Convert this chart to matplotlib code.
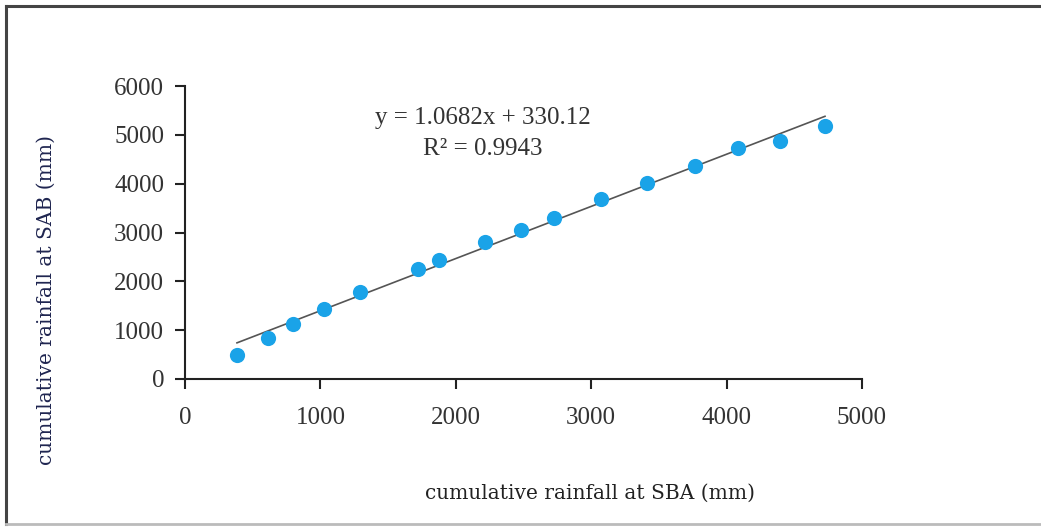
import numpy as np
import matplotlib.pyplot as plt
from matplotlib.lines import Line2D

# cumulative rainfall (mm)
sba = [384, 613, 798, 1027, 1292, 1721, 1876, 2216, 2482, 2725,
       3072, 3412, 3767, 4084, 4395, 4727]
sab = [492, 840, 1127, 1434, 1783, 2254, 2439, 2807, 3053, 3299,
       3689, 4016, 4365, 4734, 4877, 5184]

# trend line as printed on the chart
slope = 1.0682
intercept = 330.12
r2 = 0.9943

xticks = [0, 1000, 2000, 3000, 4000, 5000]
yticks = [0, 1000, 2000, 3000, 4000, 5000, 6000]

serif = 'Liberation Serif'

fig = plt.figure(figsize=(10.41, 5.28), dpi=100)

# outer frame (top, left dark; bottom light)
fig.lines.append(Line2D([0.006, 1.0], [0.988, 0.988], transform=fig.transFigure,
                        color='#444444', linewidth=2.2))
fig.lines.append(Line2D([0.006, 0.006], [0.008, 0.988], transform=fig.transFigure,
                        color='#444444', linewidth=2.2))
fig.lines.append(Line2D([0.006, 1.0], [0.008, 0.008], transform=fig.transFigure,
                        color='#bbbbbb', linewidth=2))

ax = fig.add_axes([0.1777, 0.2822, 0.6503, 0.5549])
ax.patch.set_alpha(0)

ax.scatter(sba, sab, s=120, color='#1aa3e8', zorder=3, linewidths=0)

xs = np.array([min(sba), max(sba)])
ax.plot(xs, slope * xs + intercept, color='#555555', linewidth=1.2, zorder=2)

ax.text(2200, 5350, 'y = %.4fx + %.2f' % (slope, intercept), ha='center', va='center',
        fontsize=18, family=serif, color='#333333')
ax.text(2200, 4700, 'R² = %.4f' % r2, ha='center', va='center',
        fontsize=18, family=serif, color='#333333')

ax.set_xlim(0, 5000)
ax.set_ylim(0, 6000)
ax.set_xticks(xticks)
ax.set_yticks(yticks)
for lab in ax.get_xticklabels() + ax.get_yticklabels():
    lab.set_family(serif)
    lab.set_fontsize(18)
    lab.set_color('#333333')
ax.tick_params(axis='both', length=7, width=1.5, color='#222222')
ax.tick_params(axis='x', pad=13)
ax.tick_params(axis='y', pad=8)

ax.spines['top'].set_visible(False)
ax.spines['right'].set_visible(False)
ax.spines['left'].set_linewidth(1.5)
ax.spines['bottom'].set_linewidth(1.5)
ax.spines['left'].set_color('#222222')
ax.spines['bottom'].set_color('#222222')

fig.text(0.567, 0.066, 'cumulative rainfall at SBA (mm)', ha='center', va='center',
         fontsize=14.5, family='DejaVu Serif', color='#222222')
fig.text(0.044, 0.432, 'cumulative rainfall at SAB (mm)', ha='center', va='center',
         rotation=90, fontsize=14.5, family='DejaVu Serif', color='#1f2550')

fig.savefig('out.png', dpi=100)
